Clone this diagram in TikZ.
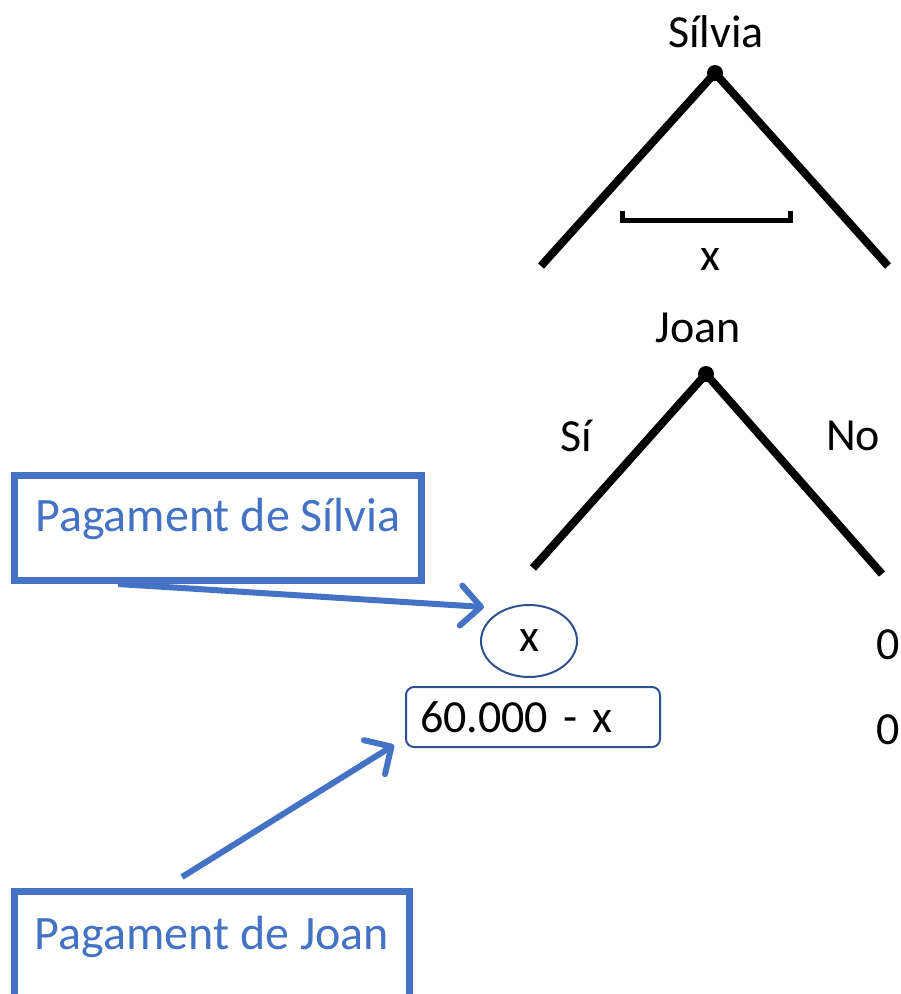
\documentclass[tikz,border=0pt]{standalone}
\usepackage{fontspec}
\setmainfont{Carlito}
\usetikzlibrary{shapes.geometric,arrows.meta}
\definecolor{boxblue}{HTML}{4472C4}
\definecolor{darkblue}{HTML}{2F528F}
\begin{document}
\begin{tikzpicture}[x=1pt,y=-1pt,
                    every node/.style={font=\fontsize{46}{55}\selectfont},
                    branch/.style={line width=8pt,black},
                    player/.style={circle,fill=black,inner sep=0pt,minimum size=16pt},
                    word/.style={anchor=base,inner sep=0pt},
                    bluebox/.style={draw=boxblue,line width=7pt,text=boxblue,inner sep=0pt,anchor=north,
                                    font=\fontsize{48}{58}\selectfont},
                    pointer/.style={draw=boxblue,line width=6pt,-{Straight Barb[length=20pt,width=40pt,round]}}
                   ]
   \useasboundingbox (0,0) rectangle (901,994);
   % first stage
   \node[word] (ls) at (716,47) {Sílvia};
   \node[player] (silvia) at (715,73) {};
   \coordinate (sl) at (541,266);
   \coordinate (sr) at (888,266);
   \path[branch] (silvia.center) edge (sl) edge (sr);
   \draw[line width=5pt] (622,211) -- (622,220) -- (790,220) -- (790,211);
   \node[word] (lx) at (710,270) {x};
   % second stage
   \node[word] (lj) at (698,342) {Joan};
   \node[player] (joan) at (706,374) {};
   \coordinate (jl) at (533,568);
   \coordinate (jr) at (882,574);
   \path[branch] (joan.center) edge (jl) edge (jr);
   \node[word] (si) at (576,451) {Sí};
   \node[word] (no) at (853,450) {No};
   % payoffs
   \node[ellipse,draw=darkblue,line width=2pt,minimum width=96pt,minimum height=72pt,inner sep=0pt] (px) at (529,641) {x};
   \node[draw=darkblue,line width=2pt,rounded corners=8pt,minimum width=254pt,minimum height=60pt,
         text width=226pt,inner xsep=14pt,inner ysep=0pt,align=left] (py) at (533,717) {60.000 - x};
   \node[word] (n1) at (888,659) {0};
   \node[word] (n2) at (888,744) {0};
   % labels
   \node[bluebox,minimum width=407pt,text height=56pt,text depth=49pt] (bs) at (218,472) {Pagament de Sílvia};
   \node[bluebox,minimum width=395pt,text height=58pt,text depth=80pt] (bj) at (212,888) {Pagament de Joan};
   \coordinate (sa) at (118,584);
   \coordinate (st) at (484,607);
   \coordinate (ja) at (182,877);
   \coordinate (jt) at (394,745);
   \path
     (sa) edge[pointer] (st)
     (ja) edge[pointer] (jt);
\end{tikzpicture}
\end{document}
